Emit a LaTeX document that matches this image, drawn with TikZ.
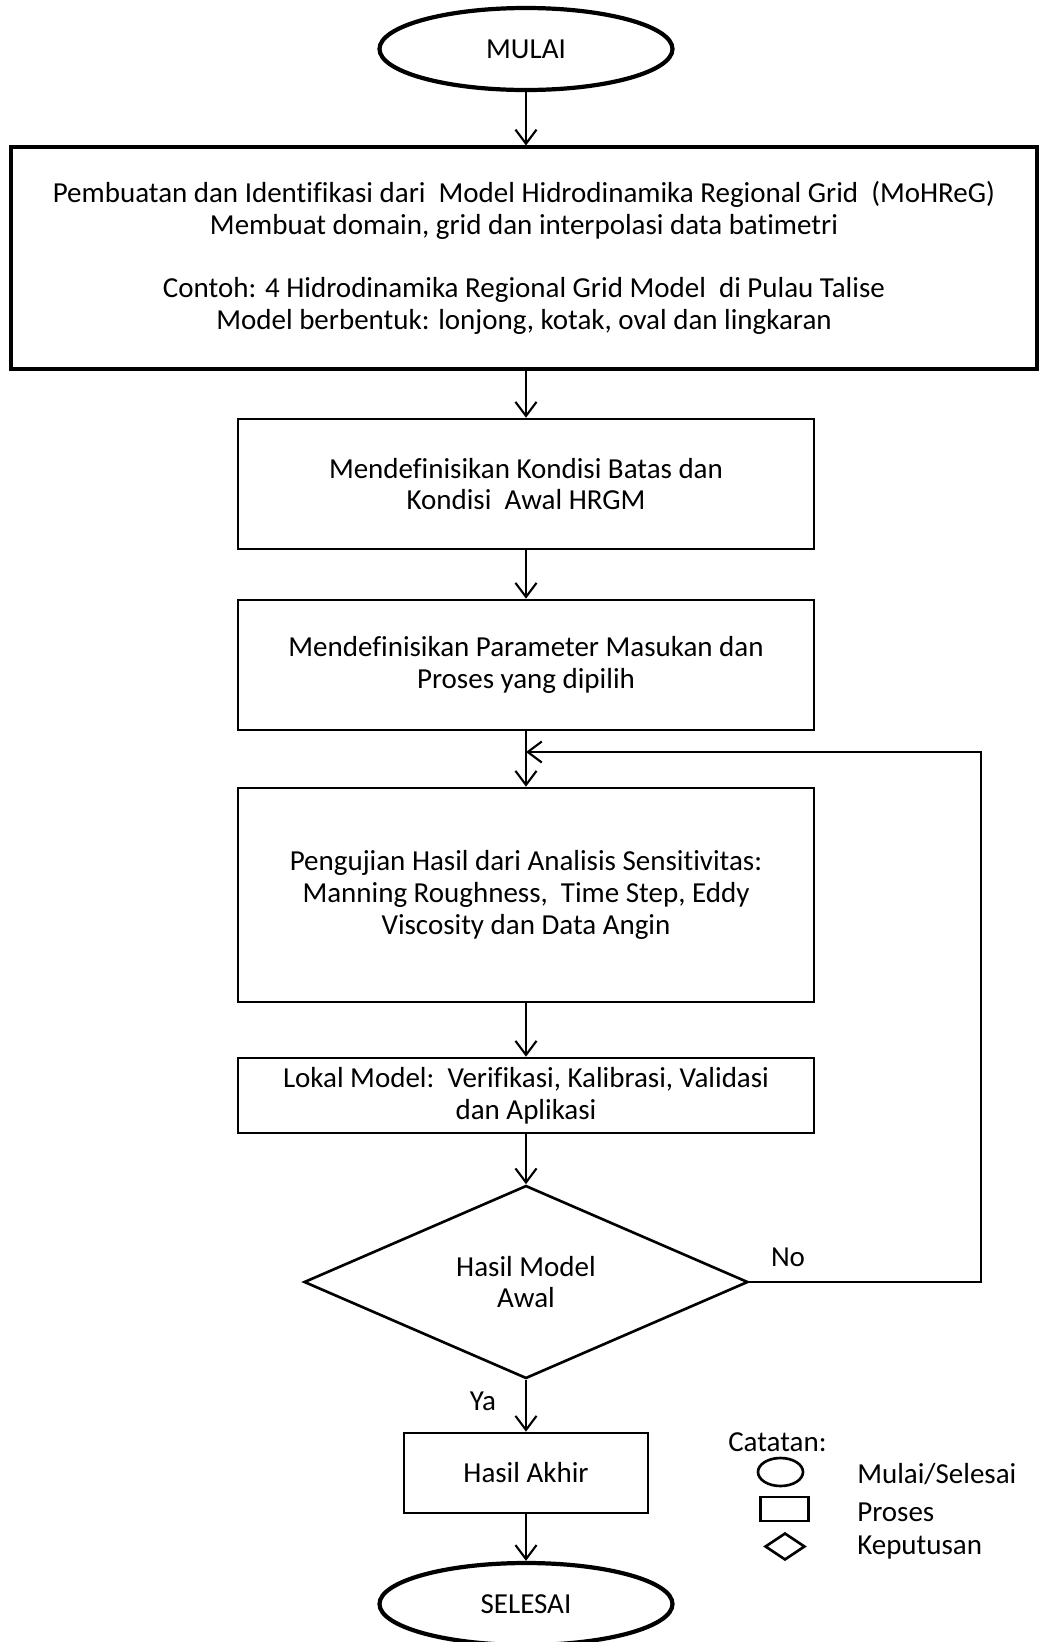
\documentclass[tikz,border=0pt]{standalone}
\usepackage{fontspec}
\setmainfont{Carlito}[Ligatures=NoCommon]
\usetikzlibrary{
		arrows.meta,
		shapes.geometric,
		positioning
	}
\tikzset{
		>={Straight Barb[length=4pt,width=6pt]},
		proses/.style={draw, line width=0.75pt, align=center, inner sep=0pt},
		terminal/.style={draw, ellipse, line width=1.2pt, inner sep=0pt,
			minimum width=2.93cm, minimum height=0.82cm},
		keputusan/.style={draw, diamond, aspect=2.3, line width=0.75pt, align=center,
			inner sep=0pt, minimum width=4.44cm, minimum height=1.93cm}
	}

\begin{document}
\begin{tikzpicture}[font=\fontsize{8.25pt}{9pt}\selectfont, line width=0.6pt]
        \useasboundingbox (0,0) rectangle (10.38,-16.42);

        % the flow, top to bottom
        \node[terminal] (mulai) at (5.26,-0.49) {MULAI};
        \node[proses, line width=0.9pt, minimum width=10.26cm, minimum height=2.22cm] (buat) at (5.24,-2.58)
            {Pembuatan dan Identifikasi dari\ \ Model Hidrodinamika Regional Grid\ \ (MoHReG)\\
             Membuat domain, grid dan interpolasi data batimetri\\[9pt]
             Contoh: 4 Hidrodinamika Regional Grid Model\ \ di Pulau Talise\\
             Model berbentuk: lonjong, kotak, oval dan lingkaran};
        \node[proses, minimum width=5.76cm, minimum height=1.30cm] (batas) at (5.26,-4.84)
            {Mendefinisikan Kondisi Batas dan\\ Kondisi\ \ Awal HRGM};
        \node[proses, minimum width=5.76cm, minimum height=1.30cm] (param) at (5.26,-6.65)
            {Mendefinisikan Parameter Masukan dan\\ Proses yang dipilih};
        \node[proses, minimum width=5.76cm, minimum height=2.14cm] (uji) at (5.26,-8.95)
            {Pengujian Hasil dari Analisis Sensitivitas:\\
             Manning Roughness,\ \ Time Step, Eddy\\ Viscosity dan Data Angin};
        \node[proses, minimum width=5.76cm, minimum height=0.75cm] (lokal) at (5.26,-10.955)
            {Lokal Model:\ \ Verifikasi, Kalibrasi, Validasi\\ dan Aplikasi};
        \node[keputusan] (hasil) at (5.26,-12.82) {Hasil Model\\ Awal};
        \node[proses, minimum width=2.44cm, minimum height=0.80cm] (akhir) at (5.26,-14.73) {Hasil Akhir};
        \node[terminal] (selesai) at (5.26,-16.04) {SELESAI};

        % where the loop comes back in
        \coordinate (balik) at (5.26,-7.52);

        % the arrows
        \draw[->] (mulai) -- (mulai |- buat.north);
        \draw[->] (batas |- buat.south) -- (batas);
        \draw[->] (batas) -- (param);
        \draw[->] (param) -- (uji);
        \draw[->] (uji) -- (lokal);
        \draw[->] (lokal) -- (hasil);
        \draw[->] (hasil) -- (akhir);
        \draw[->] (akhir) -- (selesai);
        \draw[->] (hasil.east) -- ++(2.32,0) |- (balik);

        % the answers
        \node (no) at (7.88,-12.57) {No};
        \node (ya) at (4.83,-14.01) {Ya};

        % the legend
        \node[anchor=west] (catatan) at (7.155,-14.42) {Catatan:};
        \node[draw, ellipse, line width=0.75pt, minimum width=0.45cm, minimum height=0.28cm, inner sep=0pt] (lgelips) at (7.805,-14.72) {};
        \node[draw, line width=0.75pt, minimum width=0.48cm, minimum height=0.24cm, inner sep=0pt] (lgkotak) at (7.845,-15.09) {};
        \node[draw, diamond, line width=0.75pt, minimum width=0.40cm, minimum height=0.27cm, inner sep=0pt] (lgwajik) at (7.85,-15.465) {};
        \node[anchor=west] (lgmulai) at (8.445,-14.74) {Mulai/Selesai};
        \node[anchor=west] (lgproses) at (8.445,-15.12) {Proses};
        \node[anchor=west] (lgputus) at (8.445,-15.48) {Keputusan};

    \end{tikzpicture}
\end{document}
